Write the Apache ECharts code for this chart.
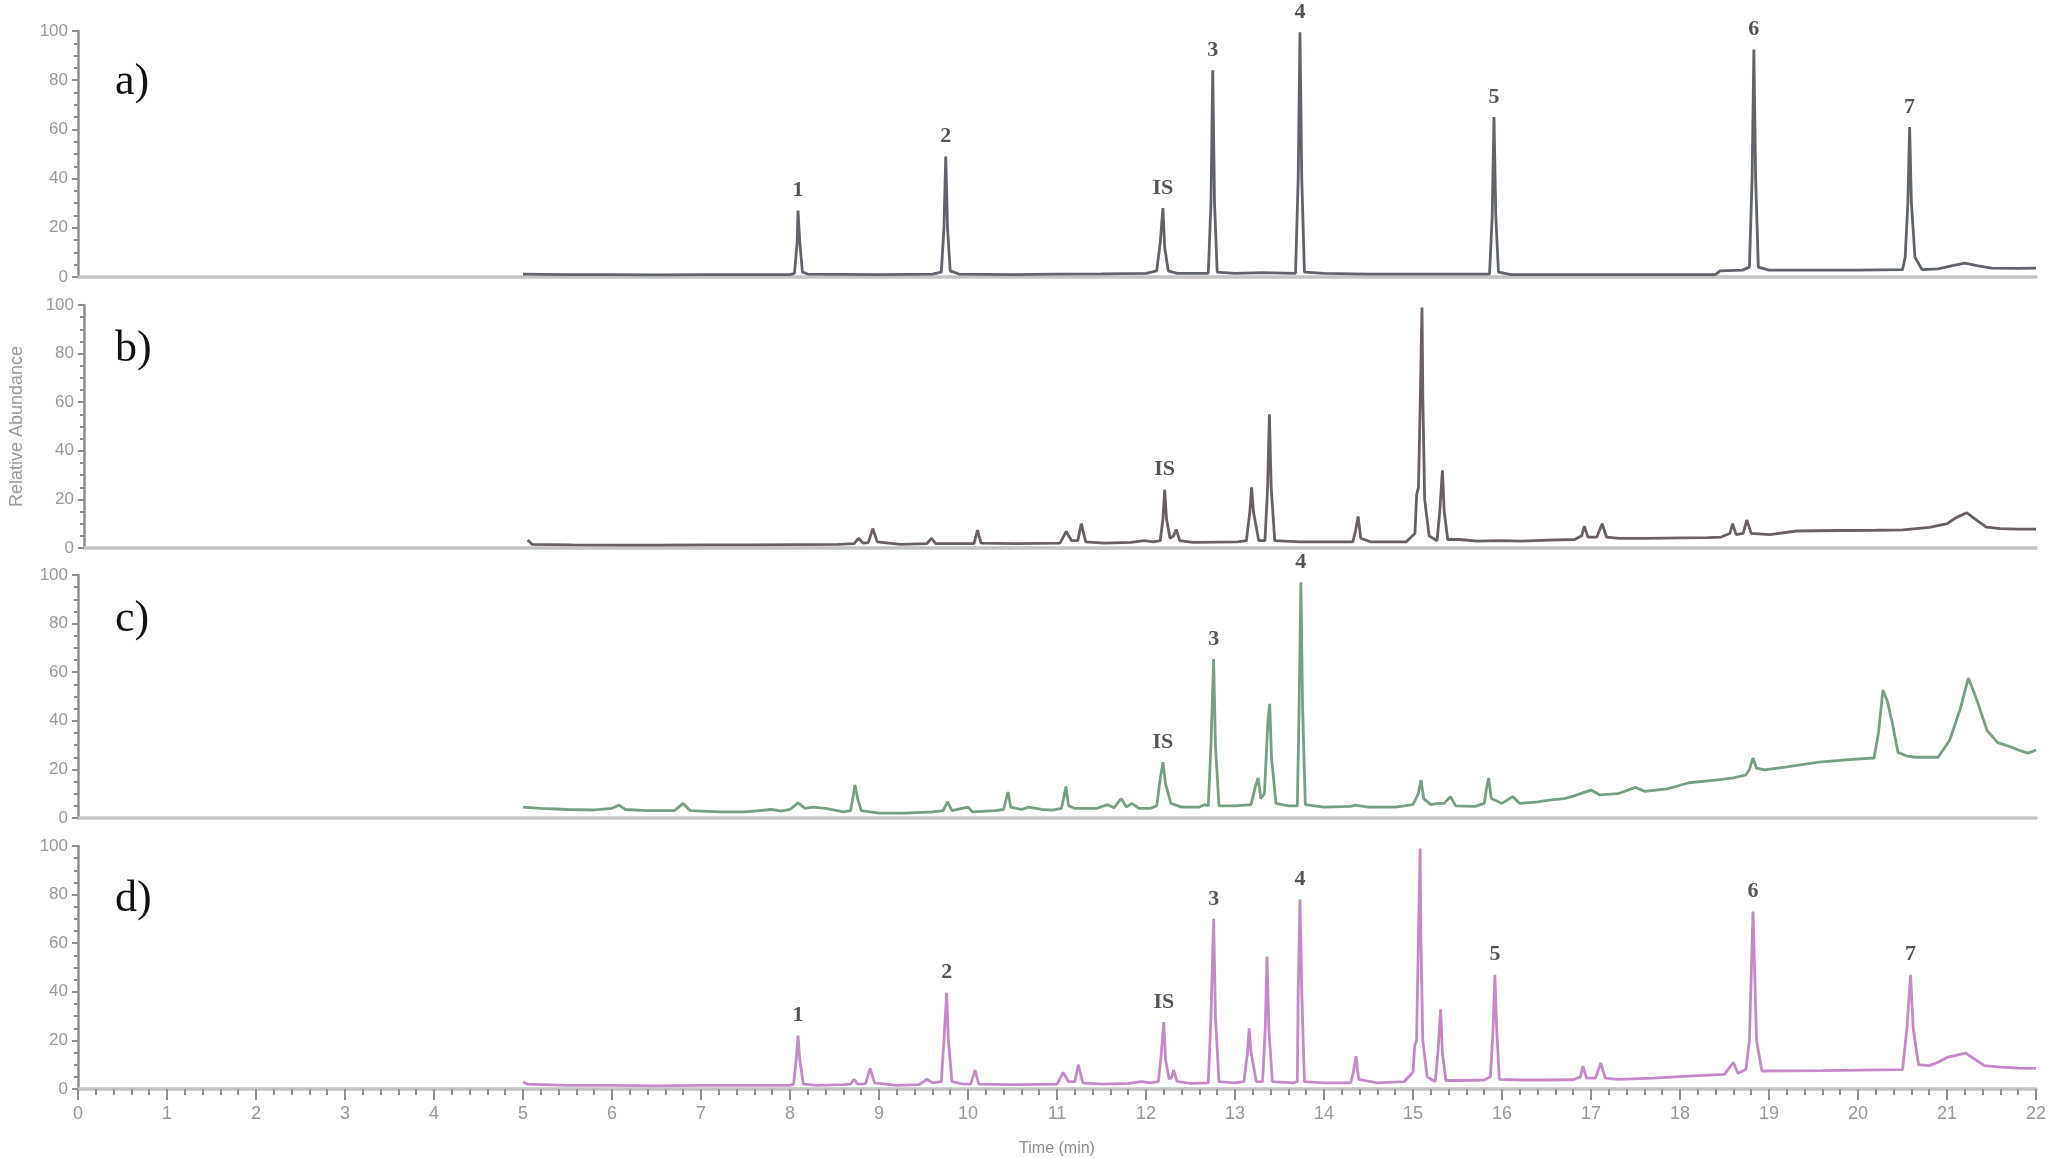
<!DOCTYPE html>
<html><head><meta charset="utf-8">
<script src="https://cdn.jsdelivr.net/npm/echarts@6/dist/echarts.min.js"></script>
<style>html,body{margin:0;padding:0;background:#fff}#c{width:2052px;height:1158px}</style>
</head><body><div id="c"></div>
<script>
// ---- data (time in min, relative abundance in %) ----
const xTicks = [0,1,2,3,4,5,6,7,8,9,10,11,12,13,14,15,16,17,18,19,20,21,22];
const yTicks = [0,20,40,60,80,100];

const traceA = [[5.0,1.2],[5.5,1.0],[6.0,1.0],[6.5,0.9],[7.0,1.0],[7.5,1.0],[8.0,1.0],
[8.05,1.5],[8.08,14],[8.09,27],[8.11,14],[8.14,2],[8.2,1.2],
[9.0,1.0],[9.6,1.2],[9.7,2],[9.73,20],[9.75,49],[9.77,20],[9.8,2.5],[9.9,1.2],
[10.5,1.0],[11.0,1.2],[11.5,1.3],[12.0,1.5],[12.12,2.5],[12.16,14],[12.19,28],[12.21,12],[12.25,2.5],[12.35,1.5],
[12.7,1.5],[12.73,30],[12.75,84],[12.77,30],[12.8,2],[13.0,1.5],[13.3,1.8],
[13.68,1.5],[13.71,40],[13.73,99.5],[13.75,40],[13.78,2],[14.0,1.5],[14.5,1.2],[15.0,1.2],[15.5,1.2],
[15.86,1.2],[15.89,25],[15.91,65],[15.93,25],[15.96,2],[16.1,1.0],[16.5,1.0],[17.0,1.0],[17.5,1.0],[18.0,1.0],[18.4,1.0],[18.45,2.5],[18.7,2.8],
[18.78,4],[18.81,40],[18.83,92.5],[18.85,40],[18.88,4],[19.0,2.8],[19.5,2.8],[20.0,2.8],[20.5,3],
[20.53,8],[20.56,30],[20.58,61],[20.6,30],[20.64,8],[20.72,3],[20.9,3.3],[21.05,4.5],[21.2,5.6],[21.35,4.5],[21.5,3.6],[21.8,3.5],[22,3.6]];

const traceB = [[5.0,3.3],[5.05,1.5],[5.5,1.3],[6.0,1.2],[6.5,1.2],[7.0,1.3],[7.5,1.3],[8.0,1.4],[8.5,1.5],
[8.68,1.8],[8.73,4],[8.78,2],[8.84,2.2],[8.89,8],[8.94,2.5],[9.2,1.5],[9.5,1.8],[9.55,4],[9.6,1.8],
[10.03,1.8],[10.07,7.4],[10.11,2],[10.5,1.8],[11.0,2],[11.07,6.8],[11.13,3],[11.2,3],[11.24,10],[11.29,2.5],[11.5,2],[11.8,2.3],[11.95,3],[12.05,2.5],
[12.13,3],[12.16,12],[12.18,24],[12.2,12],[12.24,4],[12.28,5],[12.31,7.6],[12.35,3],[12.5,2.3],[13.0,2.5],
[13.1,3],[13.14,15],[13.16,25],[13.18,15],[13.24,3],[13.31,3],[13.34,25],[13.36,55],[13.38,25],[13.42,3],
[13.7,2.5],[14.0,2.5],[14.3,2.5],[14.33,7],[14.36,13],[14.39,4],[14.5,2.5],[14.9,2.5],[15.0,6],
[15.02,22],[15.04,25],[15.06,60],[15.08,99],[15.09,60],[15.11,20],[15.16,5],[15.25,3],[15.28,15],[15.31,32],[15.33,15],[15.37,3.5],[15.5,3.5],[15.7,2.8],[15.95,3],[16.2,2.8],[16.5,3.2],[16.8,3.5],
[16.88,5],[16.91,9],[16.95,4.5],[17.05,4.5],[17.11,10],[17.16,4.5],[17.3,4],[17.6,4],[18.0,4.2],[18.3,4.3],[18.45,4.5],
[18.55,6],[18.58,10],[18.62,5.5],[18.7,6],[18.74,11.5],[18.79,6],[19.0,5.5],[19.3,7],[19.8,7.2],[20.2,7.3],[20.5,7.5],[20.8,8.5],[21.0,10],[21.1,12.5],[21.22,14.5],[21.35,11],[21.44,8.6],[21.6,8],[21.8,7.8],[22,7.8]];

const traceC = [[5.0,4.5],[5.2,4],[5.5,3.5],[5.8,3.3],[6.0,4],[6.08,5.3],[6.15,3.5],[6.4,3],[6.7,3],[6.8,6],[6.88,3],[7.2,2.5],[7.5,2.5],[7.79,3.5],[7.9,2.8],
[8.0,3.5],[8.09,6.2],[8.17,4],[8.26,4.5],[8.4,4],[8.6,2.5],[8.68,3],[8.71,9],[8.73,13.6],[8.76,8],[8.8,3],[9.0,2],[9.3,2],[9.6,2.5],[9.72,3],[9.77,6.6],[9.82,3],[10.0,4.5],[10.05,2.5],[10.3,3],
[10.4,3.5],[10.43,8],[10.45,10.7],[10.48,4.5],[10.6,3.5],[10.68,4.5],[10.83,3.5],[10.95,3.2],[11.05,4],[11.08,9],[11.1,13],[11.13,5],[11.2,4],[11.45,4],[11.57,5.5],[11.64,4.2],[11.72,8],[11.78,4.5],[11.84,6],[11.92,4],[12.05,4],
[12.12,5],[12.16,16],[12.19,23],[12.22,14],[12.28,6],[12.4,4.5],[12.6,4.5],[12.66,5.5],[12.7,5],[12.73,30],[12.76,65.4],[12.78,30],[12.82,5],[13.0,5],[13.18,5.5],[13.23,13],[13.26,16.5],[13.29,8],[13.33,10],[13.37,40],[13.39,47],[13.41,25],[13.46,6],[13.6,5],[13.7,5],
[13.72,45],[13.74,97],[13.76,45],[13.79,5.5],[14.0,4.5],[14.3,4.8],[14.35,5.3],[14.5,4.5],[14.8,4.5],[15.0,5.5],[15.06,10],[15.09,15.6],[15.12,8],[15.2,5.5],[15.28,6],[15.35,6],[15.42,8.8],[15.48,5],[15.7,4.8],[15.8,6],
[15.83,13],[15.85,16.4],[15.88,8],[16.0,6],[16.12,8.8],[16.2,6],[16.4,6.6],[16.55,7.5],[16.7,8],[16.8,9],[17.0,11.5],[17.1,9.5],[17.3,10],[17.5,12.6],[17.6,11],[17.86,12],[18.1,14.5],[18.4,15.6],[18.6,16.5],[18.74,17.7],
[18.78,20],[18.82,24.7],[18.86,20.5],[18.95,19.8],[19.2,21],[19.56,23],[19.9,24],[20.18,24.7],[20.23,35],[20.28,52.7],[20.33,48],[20.38,40],[20.45,27],[20.55,25.5],[20.65,25],[20.9,25],[21.03,32],[21.15,45],[21.24,57.6],[21.3,52],[21.35,47],[21.45,36],[21.57,31],[21.7,29.5],[21.8,28],[21.91,26.7],[22,28]];

const traceD = [[5.0,3],[5.05,2],[5.5,1.5],[6.0,1.5],[6.5,1.3],[7.0,1.5],[7.5,1.5],[8.0,1.5],[8.04,2],[8.07,12],[8.09,22],[8.11,12],[8.15,2],[8.3,1.5],[8.6,1.8],[8.68,2],[8.72,4],[8.76,2],[8.85,2.2],[8.9,8.5],[8.95,2.5],[9.2,1.5],[9.45,1.8],[9.54,4],[9.6,2.5],[9.7,3],[9.73,20],[9.76,39.6],[9.78,20],[9.82,3],[9.95,2],[10.03,2],[10.08,7.8],[10.12,2],[10.5,1.8],[11.0,2],[11.07,6.8],[11.13,3],[11.2,3],[11.24,10],[11.29,2.5],[11.5,2],[11.8,2.3],[11.95,3],[12.05,2.5],
[12.14,3],[12.17,14],[12.2,27.5],[12.22,12],[12.26,4],[12.29,5],[12.31,7.8],[12.35,3],[12.5,2.3],[12.7,2.5],[12.73,30],[12.76,70],[12.78,30],[12.82,3],[13.0,2.5],
[13.1,3],[13.14,15],[13.16,25],[13.18,15],[13.24,3],[13.31,3],[13.34,25],[13.36,54.5],[13.38,25],[13.42,3],[13.65,2.5],[13.7,3],[13.71,40],[13.73,78],[13.75,40],[13.78,3],[14.0,2.5],[14.3,2.5],[14.33,7],[14.36,13.5],[14.39,4],[14.6,2.5],[14.9,3],[15.0,7],
[15.02,18],[15.04,20],[15.06,60],[15.08,99],[15.09,60],[15.11,20],[15.16,5],[15.25,3],[15.28,15],[15.31,32.8],[15.33,15],[15.37,3.5],[15.5,3.5],[15.8,3.7],[15.87,5],[15.9,25],[15.92,47],[15.94,25],[15.97,4],[16.2,3.7],[16.5,3.7],[16.8,3.8],[16.88,5],[16.91,9.4],[16.95,4.5],[17.05,4.5],[17.11,10.7],[17.16,4.5],[17.3,4],[17.7,4.5],[18.2,5.5],[18.5,6],[18.6,11],[18.65,6.5],[18.74,8],[18.78,20],[18.82,73],[18.86,20],[18.92,7.4],[19.2,7.5],[19.6,7.6],[20.0,7.8],[20.5,8],[20.55,25],[20.59,47],[20.62,25],[20.68,10],[20.8,9.6],[20.9,11],[21.0,13],[21.21,14.8],[21.42,9.6],[21.6,9],[21.8,8.6],[22,8.5]];

const peakNamesA = ['1','2','IS','3','4','5','6','7'];
const peakTimesA = [8.09,9.75,12.19,12.75,13.73,15.91,18.83,20.58];
const peakHeightsA = [27,49,28,84,99.5,65,92.5,61];

const peakNamesB = ['IS'];
const peakTimesB = [12.18];
const peakHeightsB = [24];

const peakNamesC = ['IS','3','4'];
const peakTimesC = [12.19,12.76,13.74];
const peakHeightsC = [23,65.4,97];

const peakNamesD = ['1','2','IS','3','4','5','6','7'];
const peakTimesD = [8.09,9.76,12.2,12.76,13.73,15.92,18.82,20.59];
const peakHeightsD = [22,39.6,27.5,70,78,47,73,47];

const panelLetters = ['a)','b)','c)','d)'];

// ---- chart ----
const traces = [traceA, traceB, traceC, traceD];
const peaks = [[peakNamesA,peakTimesA,peakHeightsA],[peakNamesB,peakTimesB,peakHeightsB],[peakNamesC,peakTimesC,peakHeightsC],[peakNamesD,peakTimesD,peakHeightsD]];
const colors = ['#5f636c','#6a5f64','#76a081','#c38ac7'];
const grids = [{top:31,height:246},{top:305,height:243},{top:575,height:243},{top:846,height:244}];
const letterY = [85,352,622,902];

const chart = echarts.init(document.getElementById('c'), null, {renderer:'canvas'});
const grid = [], xAxis = [], yAxis = [], series = [], graphic = [];
for (let i=0;i<4;i++){
  grid.push({left:78, right:16, top:grids[i].top, height:grids[i].height});
  const last = i===3;
  xAxis.push({
    gridIndex:i, type:'value', min:xTicks[0], max:xTicks[xTicks.length-1], interval:1,
    axisLine:{show:true, onZero:false, lineStyle:{color:'#c4c4c4', width:3.5}},
    axisTick:{show:last, length:11, lineStyle:{color:'#8e8e8e', width:2}},
    minorTick:{show:last, splitNumber:5, length:6, lineStyle:{color:'#8e8e8e', width:2}},
    axisLabel:{show:last, fontSize:18, color:'#999', margin:16, fontFamily:'Liberation Sans'},
    splitLine:{show:false},
    name: last ? 'Time (min)' : '', nameLocation:'middle', nameGap:52,
    nameTextStyle:{fontSize:16, color:'#8c8c8c', fontFamily:'Liberation Sans'}
  });
  yAxis.push({
    gridIndex:i, type:'value', min:yTicks[0], max:yTicks[yTicks.length-1], interval:20,
    axisLine:{show:true, lineStyle:{color:'#8e8e8e', width:2.5}},
    axisTick:{show:true, length:6, lineStyle:{color:'#8e8e8e', width:2}},
    minorTick:{show:true, splitNumber:4, length:4, lineStyle:{color:'#8e8e8e', width:2}},
    axisLabel:{fontSize:17, color:'#999', margin:10, fontFamily:'Liberation Sans'},
    splitLine:{show:false},
    name: i===1 ? 'Relative Abundance' : '', nameLocation:'middle', nameRotate:90, nameGap:58,
    nameTextStyle:{fontSize:18, color:'#9a9a9a', fontFamily:'Liberation Sans'}
  });
  series.push({
    type:'line', xAxisIndex:i, yAxisIndex:i, data:traces[i], showSymbol:false, symbol:'none',
    lineStyle:{color:colors[i], width:2.8}, z:3, animation:false, smooth:false
  });
  const [nm, tt, hh] = peaks[i];
  series.push({
    type:'scatter', xAxisIndex:i, yAxisIndex:i, symbolSize:0, z:5, animation:false,
    data: nm.map((n,k)=>({name:n, value:[tt[k], hh[k]]})),
    label:{show:true, position:'top', distance:9, formatter:'{b}', fontFamily:'Liberation Serif',
      fontWeight:'bold', fontSize:22, color:'#2a2a2a'}
  });
  graphic.push({type:'text', left:115, top:letterY[i]-25,
    style:{text:panelLetters[i], font:'44px "Liberation Serif"', fill:'#111'}});
}
chart.setOption({backgroundColor:'#fff', animation:false, grid, xAxis, yAxis, series, graphic});
</script></body></html>
